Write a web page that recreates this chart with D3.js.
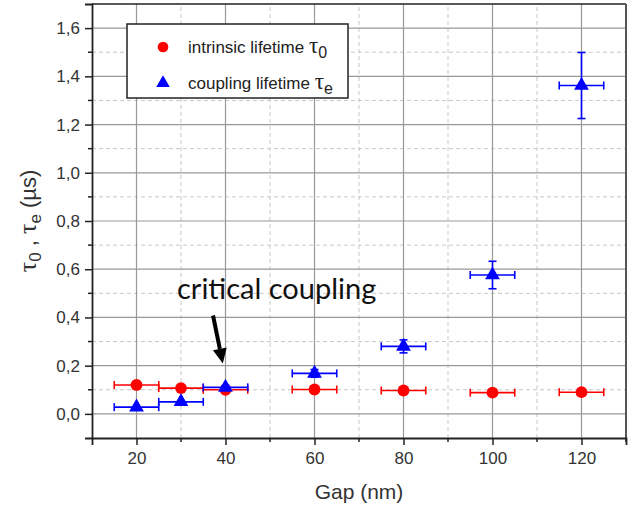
<!DOCTYPE html>
<html>
<head>
<meta charset="utf-8">
<script src="https://cdn.jsdelivr.net/npm/d3@7"></script>
<style>
  body { margin: 0; background: #fff; }
  text { font-family: "Liberation Sans", Arial, sans-serif; }
</style>
</head>
<body>
<div id="chart"></div>
<script>
// gap in nm, lifetimes in µs
const gaps = [20, 30, 40, 60, 80, 100, 120];
const gapErr = [5, 5, 5, 5, 5, 5, 5];
const tau0 = [0.120, 0.107, 0.100, 0.101, 0.097, 0.088, 0.090];
const tau0Err = [0, 0, 0, 0, 0, 0, 0];
const tauE = [0.028, 0.050, 0.110, 0.168, 0.280, 0.576, 1.362];
const tauEErr = [0, 0, 0.008, 0.016, 0.027, 0.057, 0.137];
const xTicks = [20, 40, 60, 80, 100, 120];
const yTicks = [0, 0.2, 0.4, 0.6, 0.8, 1.0, 1.2, 1.4, 1.6];

const width = 639, height = 510;
const margin = { top: 4, right: 13, bottom: 72, left: 92 };

const svg = d3.select('#chart').append('svg')
    .attr('width', width)
    .attr('height', height);

const x = d3.scaleLinear().domain([10, 130]).range([margin.left, width - margin.right]);
const y = d3.scaleLinear().domain([-0.1, 1.7]).range([height - margin.bottom, margin.top]);

const xMinor = d3.range(30, 131, 20);
const yMinor = d3.range(-0.1, 1.71, 0.2).map(v => +v.toFixed(1)).filter(v => v > -0.1 && v < 1.7);

// grid
const grid = svg.append('g');
grid.selectAll('.gxm').data(xMinor.filter(v => v < 130)).join('line')
    .attr('x1', d => x(d)).attr('x2', d => x(d))
    .attr('y1', y(-0.1)).attr('y2', y(1.7))
    .attr('stroke', '#c8c8c8').attr('stroke-dasharray', '4,3');
grid.selectAll('.gym').data(yMinor).join('line')
    .attr('x1', x(10)).attr('x2', x(130))
    .attr('y1', d => y(d)).attr('y2', d => y(d))
    .attr('stroke', '#c8c8c8').attr('stroke-dasharray', '4,3');
grid.selectAll('.gx').data(xTicks).join('line')
    .attr('x1', d => x(d)).attr('x2', d => x(d))
    .attr('y1', y(-0.1)).attr('y2', y(1.7))
    .attr('stroke', '#999').attr('stroke-width', 1.2);
grid.selectAll('.gy').data(yTicks).join('line')
    .attr('x1', x(10)).attr('x2', x(130))
    .attr('y1', d => y(d)).attr('y2', d => y(d))
    .attr('stroke', '#999').attr('stroke-width', 1.2);

// frame
svg.append('line').attr('x1', x(10)).attr('x2', x(130)).attr('y1', y(1.7)).attr('y2', y(1.7))
    .attr('stroke', '#222').attr('stroke-width', 1.5);
svg.append('line').attr('x1', x(130)).attr('x2', x(130)).attr('y1', y(1.7)).attr('y2', y(-0.1))
    .attr('stroke', '#555').attr('stroke-width', 2);

// axes
const fmt = v => d3.format('.1f')(v).replace('.', ',');
const xAxis = svg.append('g')
    .attr('transform', `translate(0,${y(-0.1)})`)
    .call(d3.axisBottom(x).tickValues(xTicks).tickSize(7).tickPadding(7));
xAxis.append('g').selectAll('line').data(xMinor).join('line')
    .attr('x1', d => x(d)).attr('x2', d => x(d)).attr('y1', 0).attr('y2', 4)
    .attr('stroke', '#222').attr('stroke-width', 1.5);

const yAxis = svg.append('g')
    .attr('transform', `translate(${x(10)},0)`)
    .call(d3.axisLeft(y).tickValues(yTicks).tickFormat(fmt).tickSize(7).tickPadding(5));
yAxis.append('g').selectAll('line').data(yMinor).join('line')
    .attr('y1', d => y(d)).attr('y2', d => y(d)).attr('x1', 0).attr('x2', -4)
    .attr('stroke', '#222').attr('stroke-width', 1.5);

[xAxis, yAxis].forEach(a => {
    a.select('.domain').attr('stroke', '#222').attr('stroke-width', 1.8);
    a.selectAll('.tick line').attr('stroke', '#222').attr('stroke-width', 1.5);
    a.selectAll('.tick text').attr('fill', '#333').style('font-size', '17px')
        .style('font-family', '"Liberation Sans", Arial, sans-serif');
});

// axis titles
svg.append('text')
    .attr('x', x(70)).attr('y', 499)
    .attr('text-anchor', 'middle')
    .attr('fill', '#333')
    .style('font-size', '21px')
    .text('Gap (nm)');

const yt = svg.append('text')
    .attr('transform', `translate(36,${y(0.8)}) rotate(-90)`)
    .attr('text-anchor', 'middle')
    .attr('fill', '#333')
    .style('font-size', '22px');
yt.append('tspan').style('font-family', '"Liberation Serif", serif').style('font-size', '26px').text('τ');
yt.append('tspan').attr('dy', 5).style('font-size', '17px').text('0');
yt.append('tspan').attr('dy', -5).text(' , ');
yt.append('tspan').style('font-family', '"Liberation Serif", serif').style('font-size', '26px').text('τ');
yt.append('tspan').attr('dy', 5).style('font-size', '17px').text('e');
yt.append('tspan').attr('dy', -5).text(' (µs)');

// data series
function drawSeries(vals, errs, color, shape) {
    const g = svg.append('g');
    const rows = gaps.map((gp, i) => ({ gp, v: vals[i], ex: gapErr[i], ey: errs[i] }));
    const cap = 4;
    rows.forEach(d => {
        g.append('line')
            .attr('x1', x(d.gp - d.ex)).attr('x2', x(d.gp + d.ex))
            .attr('y1', y(d.v)).attr('y2', y(d.v))
            .attr('stroke', color).attr('stroke-width', 1.6);
        [d.gp - d.ex, d.gp + d.ex].forEach(e => {
            g.append('line')
                .attr('x1', x(e)).attr('x2', x(e))
                .attr('y1', y(d.v) - cap).attr('y2', y(d.v) + cap)
                .attr('stroke', color).attr('stroke-width', 1.6);
        });
        if (d.ey > 0) {
            g.append('line')
                .attr('x1', x(d.gp)).attr('x2', x(d.gp))
                .attr('y1', y(d.v - d.ey)).attr('y2', y(d.v + d.ey))
                .attr('stroke', color).attr('stroke-width', 1.6);
            [d.v - d.ey, d.v + d.ey].forEach(e => {
                g.append('line')
                    .attr('x1', x(d.gp) - cap).attr('x2', x(d.gp) + cap)
                    .attr('y1', y(e)).attr('y2', y(e))
                    .attr('stroke', color).attr('stroke-width', 1.6);
            });
        }
    });
    g.selectAll('path.mark').data(rows).join('path')
        .attr('class', 'mark')
        .attr('transform', d => `translate(${x(d.gp)},${y(d.v)})`)
        .attr('d', d3.symbol().type(shape).size(shape === d3.symbolCircle ? 110 : 95))
        .attr('fill', color);
}
drawSeries(tau0, tau0Err, '#ff0000', d3.symbolCircle);
drawSeries(tauE, tauEErr, '#0000ff', d3.symbolTriangle);

// legend
const lg = svg.append('g');
lg.append('rect').attr('x', 127).attr('y', 24).attr('width', 221).attr('height', 74)
    .attr('fill', '#fff').attr('stroke', '#222').attr('stroke-width', 1.5);
lg.append('path').attr('transform', 'translate(163,47)')
    .attr('d', d3.symbol().type(d3.symbolCircle).size(90)).attr('fill', '#ff0000');
lg.append('path').attr('transform', 'translate(163,83)')
    .attr('d', d3.symbol().type(d3.symbolTriangle).size(80)).attr('fill', '#0000ff');
const l1 = lg.append('text').attr('x', 188).attr('y', 53).attr('fill', '#222').style('font-size', '17px');
l1.append('tspan').text('intrinsic lifetime ');
l1.append('tspan').style('font-family', '"Liberation Serif", serif').style('font-size', '23px').text('τ');
l1.append('tspan').attr('dy', 5).style('font-size', '16px').text('0');
const l2 = lg.append('text').attr('x', 188).attr('y', 89).attr('fill', '#222').style('font-size', '17px');
l2.append('tspan').text('coupling lifetime ');
l2.append('tspan').style('font-family', '"Liberation Serif", serif').style('font-size', '23px').text('τ');
l2.append('tspan').attr('dy', 5).style('font-size', '16px').text('e');

// annotation
svg.append('text')
    .attr('x', x(29.1)).attr('y', y(0.478))
    .attr('fill', '#111')
    .style('font-family', 'Lato, "Open Sans", sans-serif')
    .style('font-size', '29px')
    .text('critical coupling');

const ax0 = x(37.2), ay0 = y(0.408), ax1 = x(39.4), ay1 = y(0.209);
const ang = Math.atan2(ay1 - ay0, ax1 - ax0);
const headLen = 15, headW = 7;
const bx = ax1 - headLen * Math.cos(ang), by = ay1 - headLen * Math.sin(ang);
svg.append('line')
    .attr('x1', ax0).attr('y1', ay0).attr('x2', bx).attr('y2', by)
    .attr('stroke', '#000').attr('stroke-width', 4);
svg.append('path')
    .attr('d', `M${ax1},${ay1}L${bx + headW * Math.sin(ang)},${by - headW * Math.cos(ang)}L${bx - headW * Math.sin(ang)},${by + headW * Math.cos(ang)}Z`)
    .attr('fill', '#000');
</script>
</body>
</html>
